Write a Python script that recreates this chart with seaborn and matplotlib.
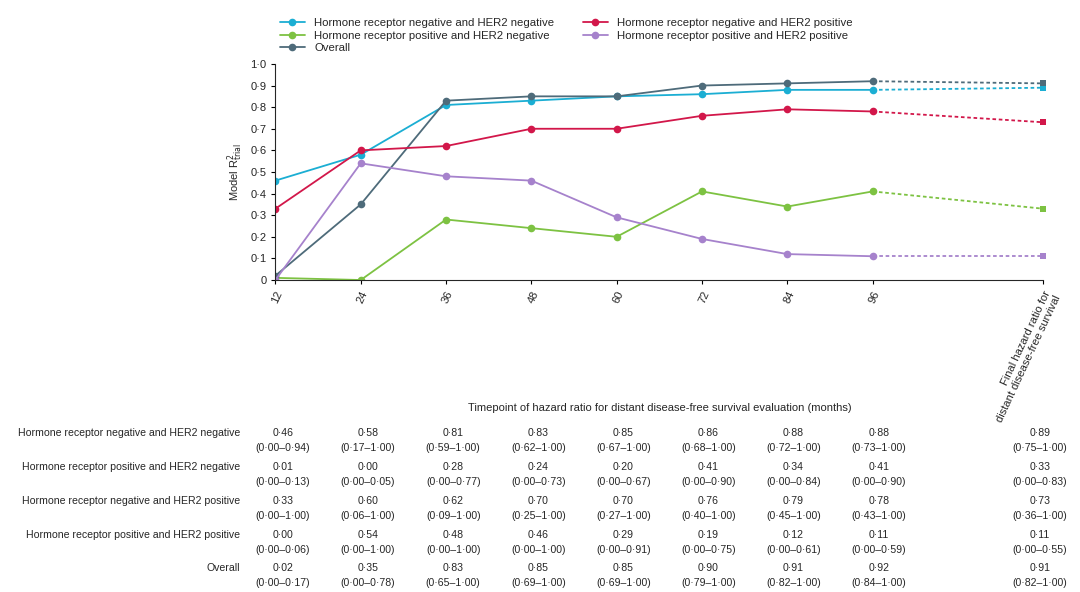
import numpy as np
import pandas as pd
import matplotlib
matplotlib.use("Agg")
import matplotlib.pyplot as plt
import seaborn as sns

# -----------------------------
# DATA
# -----------------------------
timepoints = ["12", "24", "36", "48", "60", "72", "84", "96"]
final_label = "Final hazard ratio for\ndistant disease-free survival"

groups = [
    "Hormone receptor negative and HER2 negative",
    "Hormone receptor positive and HER2 negative",
    "Hormone receptor negative and HER2 positive",
    "Hormone receptor positive and HER2 positive",
    "Overall",
]
colors = ["#1BAED3", "#7DC242", "#D2174A", "#A682CC", "#4E6B7A"]

r2_neg_neg = [0.46, 0.58, 0.81, 0.83, 0.85, 0.86, 0.88, 0.88]
r2_pos_neg = [0.01, 0.00, 0.28, 0.24, 0.20, 0.41, 0.34, 0.41]
r2_neg_pos = [0.33, 0.60, 0.62, 0.70, 0.70, 0.76, 0.79, 0.78]
r2_pos_pos = [0.00, 0.54, 0.48, 0.46, 0.29, 0.19, 0.12, 0.11]
r2_overall = [0.02, 0.35, 0.83, 0.85, 0.85, 0.90, 0.91, 0.92]
r2_final = [0.89, 0.33, 0.73, 0.11, 0.91]

ci_neg_neg = ["0·00–0·94", "0·17–1·00", "0·59–1·00", "0·62–1·00", "0·67–1·00",
              "0·68–1·00", "0·72–1·00", "0·73–1·00", "0·75–1·00"]
ci_pos_neg = ["0·00–0·13", "0·00–0·05", "0·00–0·77", "0·00–0·73", "0·00–0·67",
              "0·00–0·90", "0·00–0·84", "0·00–0·90", "0·00–0·83"]
ci_neg_pos = ["0·00–1·00", "0·06–1·00", "0·09–1·00", "0·25–1·00", "0·27–1·00",
              "0·40–1·00", "0·45–1·00", "0·43–1·00", "0·36–1·00"]
ci_pos_pos = ["0·00–0·06", "0·00–1·00", "0·00–1·00", "0·00–1·00", "0·00–0·91",
              "0·00–0·75", "0·00–0·61", "0·00–0·59", "0·00–0·55"]
ci_overall = ["0·00–0·17", "0·00–0·78", "0·65–1·00", "0·69–1·00", "0·69–1·00",
              "0·79–1·00", "0·82–1·00", "0·84–1·00", "0·82–1·00"]

series = [r2_neg_neg, r2_pos_neg, r2_neg_pos, r2_pos_pos, r2_overall]
cis = [ci_neg_neg, ci_pos_neg, ci_neg_pos, ci_pos_pos, ci_overall]

x_pos = list(range(len(timepoints)))
x_final = 9
FS = 7.6


def fmt(v):
    return f"{v:.2f}".replace(".", "·")


# -----------------------------
# PLOT
# -----------------------------
sns.set_style("white")
plt.rcParams["font.family"] = ["Liberation Sans", "DejaVu Sans"]
fig = plt.figure(figsize=(10.8, 5.92), dpi=100)
ax = fig.add_axes([0.255, 0.527, 0.711, 0.365])

rows = []
for g, vals in zip(groups, series):
    for x, v in zip(x_pos, vals):
        rows.append({"group": g, "x": x, "r2": v})
df = pd.DataFrame(rows)

# legend fills column-wise: col 1 = negneg, posneg, overall; col 2 = negpos, pospos
order = [0, 1, 4, 2, 3]
for i in order:
    sub = df[df["group"] == groups[i]]
    sns.lineplot(data=sub, x="x", y="r2", ax=ax, color=colors[i], marker="o",
                 markersize=5.5, markeredgewidth=0, linewidth=1.3, label=groups[i])
    ax.plot([x_pos[-1], x_final], [series[i][-1], r2_final[i]], color=colors[i],
            linestyle=(0, (2, 1.5)), linewidth=1.3)
    ax.plot([x_final], [r2_final[i]], marker="s", color=colors[i], markersize=5,
            markeredgewidth=0, clip_on=False)

ax.set_xlim(0, x_final)
ax.set_ylim(0, 1.0)
ax.set_yticks(np.arange(0, 1.01, 0.1))
ax.set_yticklabels(["0"] + [f"{v:.1f}".replace(".", "·") for v in np.arange(0.1, 1.01, 0.1)],
                   fontsize=FS + 0.4)
ax.set_xticks(x_pos + [x_final])
ax.set_xticklabels(timepoints + [final_label], rotation=65, ha="right",
                   rotation_mode="anchor", fontsize=FS + 0.4)
ax.set_xlabel("")
ax.set_ylabel("Model R$^2_{\\mathrm{trial}}$", fontsize=FS + 0.4)
for s in ["top", "right"]:
    ax.spines[s].set_visible(False)
ax.tick_params(axis="both", length=3, color="black", direction="out", bottom=True, left=True)

handles, labels = ax.get_legend_handles_labels()
ax.legend(handles, labels, loc="lower left", bbox_to_anchor=(0.0, 1.03),
          ncol=2, frameon=False, fontsize=FS + 0.6, handlelength=2.2,
          columnspacing=2.5, labelspacing=0.2, borderaxespad=0)

fig.text(660 / 1080, 1 - 408 / 592,
         "Timepoint of hazard ratio for distant disease-free survival evaluation (months)",
         ha="center", va="center", fontsize=FS + 0.4)

# -----------------------------
# TABLE
# -----------------------------
col_px = [283 + 85.1 * i for i in range(8)]
row_px = [433, 467, 501, 535, 568]
vals_all = [s + [f] for s, f in zip(series, r2_final)]
for g, vals, ci, y in zip(groups, vals_all, cis, row_px):
    fig.text(240 / 1080, 1 - y / 592, g, ha="right", va="center", fontsize=FS)
    for j, (v, c) in enumerate(zip(vals, ci)):
        xc = col_px[j] if j < 8 else 1040
        fig.text(xc / 1080, 1 - y / 592, fmt(v), ha="center", va="center", fontsize=FS)
        fig.text(xc / 1080, 1 - (y + 15) / 592, f"({c})", ha="center", va="center",
                 fontsize=FS)

fig.savefig("out.png", dpi=100)
